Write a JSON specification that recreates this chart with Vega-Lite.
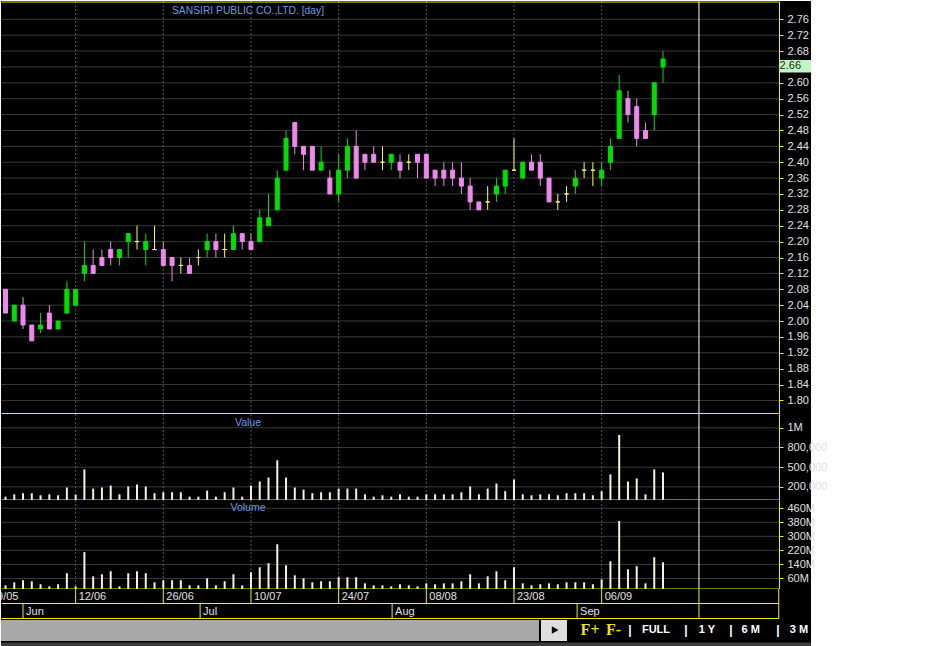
{
  "$schema": "https://vega.github.io/schema/vega-lite/v6.json",
  "background": "#ffffff",
  "padding": 0,
  "spacing": 0,
  "bounds": "flush",
  "config": {"view": {"fill": "#000000", "stroke": null}, "concat": {"spacing": 0}, "axis": {"labelOverlap": false, "labelFlush": false}, "scale": {"continuousPadding": 0}},
  "resolve": {"scale": {"x": "independent", "y": "independent"}},
  "datasets": {
    "candles": [
      {"i":0,"o":2.08,"h":2.08,"l":2.02,"c":2.02,"v":51000,"vol":21000000},
      {"i":1,"o":2.00,"h":2.04,"l":2.00,"c":2.04,"v":87000,"vol":38000000},
      {"i":2,"o":2.04,"h":2.06,"l":1.98,"c":1.99,"v":103000,"vol":50000000},
      {"i":3,"o":1.99,"h":1.99,"l":1.95,"c":1.95,"v":103000,"vol":44000000},
      {"i":4,"o":1.98,"h":2.02,"l":1.97,"c":1.99,"v":72000,"vol":27000000},
      {"i":5,"o":2.02,"h":2.04,"l":1.98,"c":1.98,"v":87000,"vol":15000000},
      {"i":6,"o":1.98,"h":2.00,"l":1.98,"c":2.00,"v":72000,"vol":27000000},
      {"i":7,"o":2.02,"h":2.10,"l":2.02,"c":2.08,"v":190000,"vol":90000000},
      {"i":8,"o":2.04,"h":2.08,"l":2.04,"c":2.08,"v":82000,"vol":15000000},
      {"i":9,"o":2.12,"h":2.20,"l":2.10,"c":2.14,"v":466000,"vol":210000000},
      {"i":10,"o":2.14,"h":2.18,"l":2.12,"c":2.12,"v":174000,"vol":72000000},
      {"i":11,"o":2.16,"h":2.18,"l":2.14,"c":2.14,"v":190000,"vol":84000000},
      {"i":12,"o":2.18,"h":2.20,"l":2.14,"c":2.16,"v":220000,"vol":101000000},
      {"i":13,"o":2.16,"h":2.18,"l":2.14,"c":2.18,"v":87000,"vol":15000000},
      {"i":14,"o":2.20,"h":2.22,"l":2.16,"c":2.22,"v":205000,"vol":90000000},
      {"i":15,"o":2.20,"h":2.24,"l":2.18,"c":2.20,"v":236000,"vol":101000000},
      {"i":16,"o":2.18,"h":2.22,"l":2.14,"c":2.20,"v":205000,"vol":90000000},
      {"i":17,"o":2.18,"h":2.24,"l":2.18,"c":2.18,"v":103000,"vol":38000000},
      {"i":18,"o":2.18,"h":2.20,"l":2.14,"c":2.14,"v":118000,"vol":50000000},
      {"i":19,"o":2.16,"h":2.16,"l":2.10,"c":2.14,"v":118000,"vol":50000000},
      {"i":20,"o":2.14,"h":2.16,"l":2.12,"c":2.14,"v":118000,"vol":50000000},
      {"i":21,"o":2.14,"h":2.16,"l":2.12,"c":2.12,"v":51000,"vol":21000000},
      {"i":22,"o":2.16,"h":2.18,"l":2.14,"c":2.16,"v":51000,"vol":21000000},
      {"i":23,"o":2.18,"h":2.22,"l":2.16,"c":2.20,"v":143000,"vol":61000000},
      {"i":24,"o":2.20,"h":2.22,"l":2.16,"c":2.18,"v":51000,"vol":21000000},
      {"i":25,"o":2.18,"h":2.22,"l":2.16,"c":2.18,"v":118000,"vol":44000000},
      {"i":26,"o":2.18,"h":2.24,"l":2.18,"c":2.22,"v":190000,"vol":84000000},
      {"i":27,"o":2.22,"h":2.22,"l":2.18,"c":2.20,"v":51000,"vol":21000000},
      {"i":28,"o":2.20,"h":2.22,"l":2.18,"c":2.18,"v":220000,"vol":95000000},
      {"i":29,"o":2.20,"h":2.28,"l":2.20,"c":2.26,"v":282000,"vol":124000000},
      {"i":30,"o":2.24,"h":2.32,"l":2.24,"c":2.26,"v":343000,"vol":147000000},
      {"i":31,"o":2.28,"h":2.38,"l":2.28,"c":2.36,"v":605000,"vol":255000000},
      {"i":32,"o":2.38,"h":2.48,"l":2.38,"c":2.46,"v":343000,"vol":135000000},
      {"i":33,"o":2.50,"h":2.50,"l":2.42,"c":2.44,"v":190000,"vol":78000000},
      {"i":34,"o":2.44,"h":2.44,"l":2.38,"c":2.42,"v":158000,"vol":61000000},
      {"i":35,"o":2.44,"h":2.44,"l":2.38,"c":2.38,"v":103000,"vol":38000000},
      {"i":36,"o":2.38,"h":2.44,"l":2.38,"c":2.40,"v":118000,"vol":44000000},
      {"i":37,"o":2.36,"h":2.38,"l":2.32,"c":2.32,"v":118000,"vol":44000000},
      {"i":38,"o":2.32,"h":2.42,"l":2.30,"c":2.38,"v":174000,"vol":67000000},
      {"i":39,"o":2.38,"h":2.46,"l":2.36,"c":2.44,"v":174000,"vol":67000000},
      {"i":40,"o":2.44,"h":2.48,"l":2.36,"c":2.36,"v":174000,"vol":67000000},
      {"i":41,"o":2.42,"h":2.42,"l":2.38,"c":2.40,"v":87000,"vol":32000000},
      {"i":42,"o":2.42,"h":2.44,"l":2.40,"c":2.40,"v":51000,"vol":21000000},
      {"i":43,"o":2.40,"h":2.44,"l":2.38,"c":2.40,"v":72000,"vol":21000000},
      {"i":44,"o":2.40,"h":2.42,"l":2.38,"c":2.42,"v":51000,"vol":15000000},
      {"i":45,"o":2.40,"h":2.42,"l":2.36,"c":2.38,"v":87000,"vol":27000000},
      {"i":46,"o":2.40,"h":2.42,"l":2.38,"c":2.40,"v":51000,"vol":21000000},
      {"i":47,"o":2.42,"h":2.42,"l":2.36,"c":2.40,"v":51000,"vol":15000000},
      {"i":48,"o":2.42,"h":2.42,"l":2.36,"c":2.36,"v":87000,"vol":32000000},
      {"i":49,"o":2.38,"h":2.38,"l":2.34,"c":2.36,"v":87000,"vol":27000000},
      {"i":50,"o":2.38,"h":2.40,"l":2.34,"c":2.36,"v":87000,"vol":32000000},
      {"i":51,"o":2.38,"h":2.40,"l":2.34,"c":2.36,"v":87000,"vol":32000000},
      {"i":52,"o":2.36,"h":2.40,"l":2.32,"c":2.34,"v":118000,"vol":44000000},
      {"i":53,"o":2.34,"h":2.36,"l":2.28,"c":2.30,"v":205000,"vol":84000000},
      {"i":54,"o":2.30,"h":2.30,"l":2.28,"c":2.28,"v":87000,"vol":32000000},
      {"i":55,"o":2.30,"h":2.34,"l":2.28,"c":2.30,"v":174000,"vol":72000000},
      {"i":56,"o":2.32,"h":2.36,"l":2.30,"c":2.34,"v":251000,"vol":101000000},
      {"i":57,"o":2.34,"h":2.38,"l":2.32,"c":2.38,"v":134000,"vol":50000000},
      {"i":58,"o":2.38,"h":2.46,"l":2.38,"c":2.38,"v":313000,"vol":124000000},
      {"i":59,"o":2.36,"h":2.40,"l":2.36,"c":2.40,"v":87000,"vol":32000000},
      {"i":60,"o":2.40,"h":2.42,"l":2.38,"c":2.38,"v":72000,"vol":21000000},
      {"i":61,"o":2.40,"h":2.42,"l":2.34,"c":2.36,"v":87000,"vol":27000000},
      {"i":62,"o":2.36,"h":2.36,"l":2.30,"c":2.30,"v":87000,"vol":32000000},
      {"i":63,"o":2.30,"h":2.32,"l":2.28,"c":2.30,"v":72000,"vol":27000000},
      {"i":64,"o":2.32,"h":2.34,"l":2.30,"c":2.32,"v":103000,"vol":38000000},
      {"i":65,"o":2.34,"h":2.38,"l":2.32,"c":2.36,"v":103000,"vol":38000000},
      {"i":66,"o":2.38,"h":2.40,"l":2.36,"c":2.38,"v":103000,"vol":38000000},
      {"i":67,"o":2.38,"h":2.40,"l":2.34,"c":2.38,"v":72000,"vol":27000000},
      {"i":68,"o":2.36,"h":2.40,"l":2.34,"c":2.38,"v":134000,"vol":55000000},
      {"i":69,"o":2.40,"h":2.46,"l":2.38,"c":2.44,"v":390000,"vol":158000000},
      {"i":70,"o":2.46,"h":2.62,"l":2.46,"c":2.58,"v":990000,"vol":387000000},
      {"i":71,"o":2.56,"h":2.58,"l":2.50,"c":2.52,"v":282000,"vol":112000000},
      {"i":72,"o":2.54,"h":2.56,"l":2.44,"c":2.46,"v":328000,"vol":130000000},
      {"i":73,"o":2.48,"h":2.50,"l":2.46,"c":2.46,"v":87000,"vol":32000000},
      {"i":74,"o":2.52,"h":2.60,"l":2.48,"c":2.60,"v":466000,"vol":181000000},
      {"i":75,"o":2.64,"h":2.68,"l":2.60,"c":2.66,"v":420000,"vol":152000000}
    ],
    "dates": [
      {"i":-2,"d":"29/05"},{"i":8,"d":"12/06"},{"i":18,"d":"26/06"},{"i":28,"d":"10/07"},
      {"i":38,"d":"24/07"},{"i":48,"d":"08/08"},{"i":58,"d":"23/08"},{"i":68,"d":"06/09"}
    ],
    "months": [
      {"i":2,"m":"Jun"},{"i":22.2,"m":"Jul"},{"i":44.1,"m":"Aug"},{"i":65.2,"m":"Sep"}
    ],
    "pgrid": [
      {"p":1.80},{"p":1.84},{"p":1.88},{"p":1.92},{"p":1.96},{"p":2.00},{"p":2.04},{"p":2.08},
      {"p":2.12},{"p":2.16},{"p":2.20},{"p":2.24},{"p":2.28},{"p":2.32},{"p":2.36},{"p":2.40},
      {"p":2.44},{"p":2.48},{"p":2.52},{"p":2.56},{"p":2.60},{"p":2.64},{"p":2.68},{"p":2.72},{"p":2.76}
    ],
    "vgrid": [{"g":200000},{"g":500000},{"g":800000},{"g":1100000}],
    "volgrid": [{"g":60000000},{"g":140000000},{"g":220000000},{"g":300000000},{"g":380000000},{"g":460000000}]
  },
  "vconcat": [
    {
      "width": 810, "height": 413,
      "layer": [
        {"data": {"name": "pgrid"}, "mark": {"type": "rule", "color": "#3a3a3a", "strokeWidth": 1},
         "encoding": {
           "y": {"field": "p", "type": "quantitative", "scale": {"domain": [1.7658, 2.8061], "nice": false, "zero": false, "padding": 0},
                 "axis": {"orient": "right", "offset": -32, "tickCount": 60, "values": [1.80,1.84,1.88,1.92,1.96,2.00,2.04,2.08,2.12,2.16,2.20,2.24,2.28,2.32,2.36,2.40,2.44,2.48,2.52,2.56,2.60,2.68,2.72,2.76],
                          "format": ".2f", "grid": false, "title": null, "domainColor": "#f0f000", "tickColor": "#f0f000", "tickSize": 4,
                          "labelColor": "#e0e0e0", "labelFont": "Liberation Sans", "labelFontSize": 11, "labelPadding": 4,
                          "labelOverlap": false, "labelFlush": false}},
           "x": {"datum": -0.513, "type": "quantitative", "scale": {"domain": [-0.513, 91.88], "nice": false, "zero": false, "padding": 0}, "axis": null},
           "x2": {"datum": 88.2}
         }},
        {"data": {"name": "dates"}, "transform": [{"filter": "datum.i >= 0"}], "mark": {"type": "rule", "color": "#555555", "strokeDash": [2, 2]},
         "encoding": {"x": {"field": "i", "type": "quantitative", "scale": {"domain": [-0.513, 91.88], "nice": false, "zero": false, "padding": 0}, "axis": null}}},
        {"data": {"values": [{}]}, "mark": {"type": "rule", "color": "#ffffff"},
         "encoding": {"x": {"datum": 79.1, "type": "quantitative", "scale": {"domain": [-0.513, 91.88], "nice": false, "zero": false, "padding": 0}, "axis": null}}},
        {"data": {"values": [{}]}, "mark": {"type": "rule", "color": "#f0f000"},
         "encoding": {"x": {"datum": -0.45, "type": "quantitative", "scale": {"domain": [-0.513, 91.88], "nice": false, "zero": false, "padding": 0}, "axis": null},
                      "x2": {"datum": 88.2}, "y": {"datum": 2.8035, "type": "quantitative"}}},
        {"data": {"values": [{}]}, "mark": {"type": "rule", "color": "#f0f000"},
         "encoding": {"x": {"datum": -0.45, "type": "quantitative", "scale": {"domain": [-0.513, 91.88], "nice": false, "zero": false, "padding": 0}, "axis": null},
                      "x2": {"datum": 88.2}, "y": {"datum": 1.767, "type": "quantitative"}}},
        {"data": {"name": "candles"}, "mark": {"type": "rule", "strokeWidth": 1},
         "encoding": {
           "x": {"field": "i", "type": "quantitative", "scale": {"domain": [-0.513, 91.88], "nice": false, "zero": false, "padding": 0}, "axis": null},
           "y": {"field": "l", "type": "quantitative"}, "y2": {"field": "h"},
           "color": {"condition": [{"test": "datum.c > datum.o", "value": "#00e000"}, {"test": "datum.c < datum.o", "value": "#ee88ee"}], "value": "#ffff44"}
         }},
        {"data": {"name": "candles"}, "mark": {"type": "bar", "size": 4, "strokeWidth": 1},
         "encoding": {
           "x": {"field": "i", "type": "quantitative", "scale": {"domain": [-0.513, 91.88], "nice": false, "zero": false, "padding": 0}, "axis": null},
           "y": {"field": "o", "type": "quantitative"}, "y2": {"field": "c"},
           "fill": {"condition": [{"test": "datum.c > datum.o", "value": "#00e000"}, {"test": "datum.c < datum.o", "value": "#ee88ee"}], "value": "#ffff44"},
           "stroke": {"condition": [{"test": "datum.c > datum.o", "value": "#00e000"}, {"test": "datum.c < datum.o", "value": "#ee88ee"}], "value": "#ffff44"}
         }},
        {"data": {"values": [{"t": "SANSIRI PUBLIC CO.,LTD. [day]"}]},
         "mark": {"type": "text", "align": "left", "baseline": "middle", "font": "Liberation Sans", "fontSize": 10.3, "color": "#6b9be6"},
         "encoding": {"x": {"datum": 18.99, "type": "quantitative", "scale": {"domain": [-0.513, 91.88], "nice": false, "zero": false, "padding": 0}, "axis": null},
                      "y": {"datum": 2.7797, "type": "quantitative"}, "text": {"field": "t"}}},
        {"data": {"values": [{}]}, "mark": {"type": "rect", "color": "#c4f4c4"},
         "encoding": {"x": {"datum": 88.25, "type": "quantitative", "scale": {"domain": [-0.513, 91.88], "nice": false, "zero": false, "padding": 0}, "axis": null},
                      "x2": {"datum": 91.88}, "y": {"datum": 2.6575, "type": "quantitative"}, "y2": {"datum": 2.626}}},
        {"data": {"values": [{"t": "2.66"}]},
         "mark": {"type": "text", "align": "left", "baseline": "middle", "font": "Liberation Sans", "fontSize": 11, "color": "#103010"},
         "encoding": {"x": {"datum": 88.3, "type": "quantitative", "scale": {"domain": [-0.513, 91.88], "nice": false, "zero": false, "padding": 0}, "axis": null},
                      "y": {"datum": 2.642, "type": "quantitative"}, "text": {"field": "t"}}}
      ]
    },
    {
      "width": 810, "height": 86,
      "layer": [
        {"data": {"name": "vgrid"}, "mark": {"type": "rule", "color": "#3a3a3a"},
         "encoding": {
           "y": {"field": "g", "type": "quantitative", "scale": {"domain": [0, 1310000], "nice": false, "zero": false, "padding": 0},
                 "axis": {"orient": "right", "offset": -32, "tickCount": 60, "values": [200000, 500000, 800000, 1100000],
                          "labelExpr": "datum.value >= 1000000 ? '1M' : format(datum.value, ',')",
                          "grid": false, "title": null, "domainColor": "#f0f000", "tickColor": "#f0f000", "tickSize": 4,
                          "labelColor": "#e0e0e0", "labelFont": "Liberation Sans", "labelFontSize": 11, "labelPadding": 4,
                          "labelOverlap": false, "labelFlush": false}},
           "x": {"datum": -0.513, "type": "quantitative", "scale": {"domain": [-0.513, 91.88], "nice": false, "zero": false, "padding": 0}, "axis": null},
           "x2": {"datum": 88.2}
         }},
        {"data": {"name": "dates"}, "transform": [{"filter": "datum.i >= 0"}], "mark": {"type": "rule", "color": "#555555", "strokeDash": [2, 2]},
         "encoding": {"x": {"field": "i", "type": "quantitative", "scale": {"domain": [-0.513, 91.88], "nice": false, "zero": false, "padding": 0}, "axis": null}}},
        {"data": {"values": [{}]}, "mark": {"type": "rule", "color": "#ffffff"},
         "encoding": {"x": {"datum": 79.1, "type": "quantitative", "scale": {"domain": [-0.513, 91.88], "nice": false, "zero": false, "padding": 0}, "axis": null}}},
        {"data": {"name": "candles"}, "mark": {"type": "bar", "size": 2, "color": "#f4f4d8"},
         "encoding": {
           "x": {"field": "i", "type": "quantitative", "scale": {"domain": [-0.513, 91.88], "nice": false, "zero": false, "padding": 0}, "axis": null},
           "y": {"field": "v", "type": "quantitative"}
         }},
        {"data": {"values": [{}]}, "mark": {"type": "rule", "color": "#f0f000"},
         "encoding": {"x": {"datum": -0.45, "type": "quantitative", "scale": {"domain": [-0.513, 91.88], "nice": false, "zero": false, "padding": 0}, "axis": null},
                      "x2": {"datum": 88.2}, "y": {"datum": 0, "type": "quantitative"}}},
        {"data": {"values": [{"t": "Value"}]},
         "mark": {"type": "text", "align": "center", "baseline": "middle", "font": "Liberation Sans", "fontSize": 10.5, "color": "#6b9be6"},
         "encoding": {"x": {"datum": 27.66, "type": "quantitative", "scale": {"domain": [-0.513, 91.88], "nice": false, "zero": false, "padding": 0}, "axis": null},
                      "y": {"datum": 1173000, "type": "quantitative"}, "text": {"field": "t"}}}
      ]
    },
    {
      "width": 810, "height": 89,
      "layer": [
        {"data": {"name": "volgrid"}, "mark": {"type": "rule", "color": "#3a3a3a"},
         "encoding": {
           "y": {"field": "g", "type": "quantitative", "scale": {"domain": [0, 507000000], "nice": false, "zero": false, "padding": 0},
                 "axis": {"orient": "right", "offset": -32, "tickCount": 60, "values": [60000000, 140000000, 220000000, 300000000, 380000000, 460000000],
                          "labelExpr": "format(datum.value / 1000000, 'd') + 'M'",
                          "grid": false, "title": null, "domainColor": "#f0f000", "tickColor": "#f0f000", "tickSize": 4,
                          "labelColor": "#e0e0e0", "labelFont": "Liberation Sans", "labelFontSize": 11, "labelPadding": 4,
                          "labelOverlap": false, "labelFlush": false}},
           "x": {"datum": -0.513, "type": "quantitative", "scale": {"domain": [-0.513, 91.88], "nice": false, "zero": false, "padding": 0}, "axis": null},
           "x2": {"datum": 88.2}
         }},
        {"data": {"name": "dates"}, "transform": [{"filter": "datum.i >= 0"}], "mark": {"type": "rule", "color": "#555555", "strokeDash": [2, 2]},
         "encoding": {"x": {"field": "i", "type": "quantitative", "scale": {"domain": [-0.513, 91.88], "nice": false, "zero": false, "padding": 0}, "axis": null}}},
        {"data": {"values": [{}]}, "mark": {"type": "rule", "color": "#ffffff"},
         "encoding": {"x": {"datum": 79.1, "type": "quantitative", "scale": {"domain": [-0.513, 91.88], "nice": false, "zero": false, "padding": 0}, "axis": null}}},
        {"data": {"name": "candles"}, "mark": {"type": "bar", "size": 2, "color": "#f4f4d8"},
         "encoding": {
           "x": {"field": "i", "type": "quantitative", "scale": {"domain": [-0.513, 91.88], "nice": false, "zero": false, "padding": 0}, "axis": null},
           "y": {"field": "vol", "type": "quantitative"}
         }},
        {"data": {"values": [{}]}, "mark": {"type": "rule", "color": "#f0f000"},
         "encoding": {"x": {"datum": -0.45, "type": "quantitative", "scale": {"domain": [-0.513, 91.88], "nice": false, "zero": false, "padding": 0}, "axis": null},
                      "x2": {"datum": 88.2}, "y": {"datum": 0, "type": "quantitative"}}},
        {"data": {"values": [{"t": "Volume"}]},
         "mark": {"type": "text", "align": "center", "baseline": "middle", "font": "Liberation Sans", "fontSize": 10.5, "color": "#6b9be6"},
         "encoding": {"x": {"datum": 27.66, "type": "quantitative", "scale": {"domain": [-0.513, 91.88], "nice": false, "zero": false, "padding": 0}, "axis": null},
                      "y": {"datum": 458600000, "type": "quantitative"}, "text": {"field": "t"}}}
      ]
    },
    {
      "width": 810, "height": 15,
      "layer": [
        {"data": {"name": "dates"}, "transform": [{"filter": "datum.i >= 0"}], "mark": {"type": "rule", "color": "#f0f000"},
         "encoding": {"x": {"field": "i", "type": "quantitative", "scale": {"domain": [-0.513, 91.88], "nice": false, "zero": false, "padding": 0}, "axis": null}}},
        {"data": {"values": [{}]}, "mark": {"type": "rule", "color": "#f0f000"},
         "encoding": {"x": {"datum": 79.1, "type": "quantitative", "scale": {"domain": [-0.513, 91.88], "nice": false, "zero": false, "padding": 0}, "axis": null}}},
        {"data": {"values": [{}]}, "mark": {"type": "rule", "color": "#f0f000"},
         "encoding": {"x": {"datum": 88.2, "type": "quantitative", "scale": {"domain": [-0.513, 91.88], "nice": false, "zero": false, "padding": 0}, "axis": null}}},
        {"data": {"values": [{}]}, "mark": {"type": "rule", "color": "#f0f000"},
         "encoding": {"x": {"datum": -0.45, "type": "quantitative", "scale": {"domain": [-0.513, 91.88], "nice": false, "zero": false, "padding": 0}, "axis": null},
                      "x2": {"datum": 88.2}, "y": {"datum": 0.5, "type": "quantitative", "scale": {"domain": [0, 15], "nice": false, "zero": false, "padding": 0}, "axis": null}}},
        {"data": {"name": "dates"}, "mark": {"type": "text", "align": "left", "baseline": "middle", "dx": 3, "font": "Liberation Sans", "fontSize": 11, "color": "#e0e0e0", "clip": true},
         "encoding": {"x": {"field": "i", "type": "quantitative", "scale": {"domain": [-0.513, 91.88], "nice": false, "zero": false, "padding": 0}, "axis": null},
                      "text": {"field": "d"}}}
      ]
    },
    {
      "width": 810, "height": 15,
      "layer": [
        {"data": {"name": "months"}, "mark": {"type": "rule", "color": "#f0f000"},
         "encoding": {"x": {"field": "i", "type": "quantitative", "scale": {"domain": [-0.513, 91.88], "nice": false, "zero": false, "padding": 0}, "axis": null}}},
        {"data": {"values": [{}]}, "mark": {"type": "rule", "color": "#f0f000"},
         "encoding": {"x": {"datum": 79.1, "type": "quantitative", "scale": {"domain": [-0.513, 91.88], "nice": false, "zero": false, "padding": 0}, "axis": null}}},
        {"data": {"values": [{}]}, "mark": {"type": "rule", "color": "#f0f000"},
         "encoding": {"x": {"datum": 88.2, "type": "quantitative", "scale": {"domain": [-0.513, 91.88], "nice": false, "zero": false, "padding": 0}, "axis": null}}},
        {"data": {"values": [{}]}, "mark": {"type": "rule", "color": "#f0f000"},
         "encoding": {"x": {"datum": -0.45, "type": "quantitative", "scale": {"domain": [-0.513, 91.88], "nice": false, "zero": false, "padding": 0}, "axis": null},
                      "x2": {"datum": 88.2}, "y": {"datum": 0.5, "type": "quantitative", "scale": {"domain": [0, 15], "nice": false, "zero": false, "padding": 0}, "axis": null}}},
        {"data": {"name": "months"}, "mark": {"type": "text", "align": "left", "baseline": "middle", "dx": 3, "font": "Liberation Sans", "fontSize": 11, "color": "#e0e0e0"},
         "encoding": {"x": {"field": "i", "type": "quantitative", "scale": {"domain": [-0.513, 91.88], "nice": false, "zero": false, "padding": 0}, "axis": null},
                      "text": {"field": "m"}}}
      ]
    },
    {
      "width": 810, "height": 28,
      "layer": [
        {"data": {"values": [{}]}, "mark": {"type": "rect", "color": "#a9a9a9"},
         "encoding": {"x": {"datum": -0.513, "type": "quantitative", "scale": {"domain": [-0.513, 91.88], "nice": false, "zero": false, "padding": 0}, "axis": null},
                      "x2": {"datum": 60.85}, "y": {"datum": 27, "type": "quantitative", "scale": {"domain": [0, 28], "nice": false, "zero": false, "padding": 0}, "axis": null}, "y2": {"datum": 6}}},
        {"data": {"values": [{}]}, "mark": {"type": "rect", "color": "#3c3c3c"},
         "encoding": {"x": {"datum": -0.513, "type": "quantitative", "scale": {"domain": [-0.513, 91.88], "nice": false, "zero": false, "padding": 0}, "axis": null},
                      "x2": {"datum": 91.88}, "y": {"datum": 4.5, "type": "quantitative"}, "y2": {"datum": 0}}},
        {"data": {"values": [{}]}, "mark": {"type": "rect", "color": "#dedede"},
         "encoding": {"x": {"datum": 61.08, "type": "quantitative", "scale": {"domain": [-0.513, 91.88], "nice": false, "zero": false, "padding": 0}, "axis": null},
                      "x2": {"datum": 64.05}, "y": {"datum": 27, "type": "quantitative"}, "y2": {"datum": 6}}},
        {"data": {"values": [{}]}, "mark": {"type": "point", "shape": "triangle-right", "filled": true, "color": "#000000", "size": 60, "opacity": 1},
         "encoding": {"x": {"datum": 62.7, "type": "quantitative", "scale": {"domain": [-0.513, 91.88], "nice": false, "zero": false, "padding": 0}, "axis": null},
                      "y": {"datum": 17, "type": "quantitative"}}},
        {"data": {"values": [{"t": "F+"}]}, "mark": {"type": "text", "align": "left", "baseline": "middle", "font": "Liberation Serif", "fontSize": 16, "fontWeight": "bold", "color": "#f0e020"},
         "encoding": {"x": {"datum": 65.6, "type": "quantitative", "scale": {"domain": [-0.513, 91.88], "nice": false, "zero": false, "padding": 0}, "axis": null},
                      "y": {"datum": 17, "type": "quantitative"}, "text": {"field": "t"}}},
        {"data": {"values": [{"t": "F-"}]}, "mark": {"type": "text", "align": "left", "baseline": "middle", "font": "Liberation Serif", "fontSize": 16, "fontWeight": "bold", "color": "#f0e020"},
         "encoding": {"x": {"datum": 68.5, "type": "quantitative", "scale": {"domain": [-0.513, 91.88], "nice": false, "zero": false, "padding": 0}, "axis": null},
                      "y": {"datum": 17, "type": "quantitative"}, "text": {"field": "t"}}},
        {"data": {"values": [{"t": "FULL"}]},
         "mark": {"type": "text", "align": "center", "baseline": "middle", "font": "Liberation Sans", "fontSize": 11, "fontWeight": "bold", "color": "#ffffff"},
         "encoding": {"x": {"datum": 74.2, "type": "quantitative", "scale": {"domain": [-0.513, 91.88], "nice": false, "zero": false, "padding": 0}, "axis": null},
                      "y": {"datum": 17, "type": "quantitative"}, "text": {"field": "t"}}},
        {"data": {"values": [{"t": "1 Y"}]}, "mark": {"type": "text", "align": "center", "baseline": "middle", "font": "Liberation Sans", "fontSize": 11, "fontWeight": "bold", "color": "#ffffff"},
         "encoding": {"x": {"datum": 80.0, "type": "quantitative", "scale": {"domain": [-0.513, 91.88], "nice": false, "zero": false, "padding": 0}, "axis": null},
                      "y": {"datum": 17, "type": "quantitative"}, "text": {"field": "t"}}},
        {"data": {"values": [{"t": "6 M"}]}, "mark": {"type": "text", "align": "center", "baseline": "middle", "font": "Liberation Sans", "fontSize": 11, "fontWeight": "bold", "color": "#ffffff"},
         "encoding": {"x": {"datum": 85.0, "type": "quantitative", "scale": {"domain": [-0.513, 91.88], "nice": false, "zero": false, "padding": 0}, "axis": null},
                      "y": {"datum": 17, "type": "quantitative"}, "text": {"field": "t"}}},
        {"data": {"values": [{"t": "3 M"}]}, "mark": {"type": "text", "align": "center", "baseline": "middle", "font": "Liberation Sans", "fontSize": 11, "fontWeight": "bold", "color": "#ffffff"},
         "encoding": {"x": {"datum": 90.5, "type": "quantitative", "scale": {"domain": [-0.513, 91.88], "nice": false, "zero": false, "padding": 0}, "axis": null},
                      "y": {"datum": 17, "type": "quantitative"}, "text": {"field": "t"}}},
        {"data": {"values": [{"t": "|"}]}, "mark": {"type": "text", "align": "center", "baseline": "middle", "font": "Liberation Sans", "fontSize": 12, "fontWeight": "bold", "color": "#ffffff"},
         "encoding": {"x": {"datum": 71.23, "type": "quantitative", "scale": {"domain": [-0.513, 91.88], "nice": false, "zero": false, "padding": 0}, "axis": null},
                      "y": {"datum": 17, "type": "quantitative"}, "text": {"field": "t"}}},
        {"data": {"values": [{"t": "|"}]}, "mark": {"type": "text", "align": "center", "baseline": "middle", "font": "Liberation Sans", "fontSize": 12, "fontWeight": "bold", "color": "#ffffff"},
         "encoding": {"x": {"datum": 77.6, "type": "quantitative", "scale": {"domain": [-0.513, 91.88], "nice": false, "zero": false, "padding": 0}, "axis": null},
                      "y": {"datum": 17, "type": "quantitative"}, "text": {"field": "t"}}},
        {"data": {"values": [{"t": "|"}]}, "mark": {"type": "text", "align": "center", "baseline": "middle", "font": "Liberation Sans", "fontSize": 12, "fontWeight": "bold", "color": "#ffffff"},
         "encoding": {"x": {"datum": 82.75, "type": "quantitative", "scale": {"domain": [-0.513, 91.88], "nice": false, "zero": false, "padding": 0}, "axis": null},
                      "y": {"datum": 17, "type": "quantitative"}, "text": {"field": "t"}}},
        {"data": {"values": [{"t": "|"}]}, "mark": {"type": "text", "align": "center", "baseline": "middle", "font": "Liberation Sans", "fontSize": 12, "fontWeight": "bold", "color": "#ffffff"},
         "encoding": {"x": {"datum": 88.1, "type": "quantitative", "scale": {"domain": [-0.513, 91.88], "nice": false, "zero": false, "padding": 0}, "axis": null},
                      "y": {"datum": 17, "type": "quantitative"}, "text": {"field": "t"}}}
      ]
    }
  ]
}
